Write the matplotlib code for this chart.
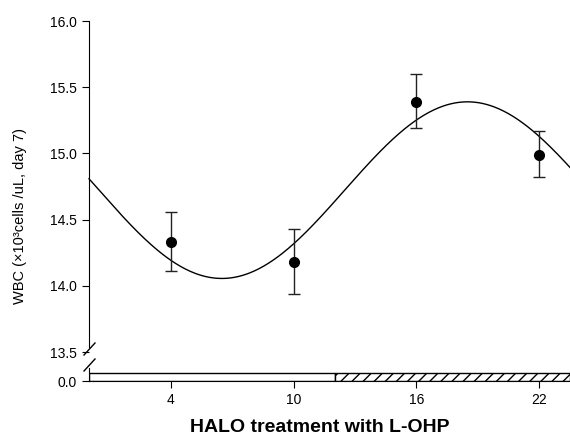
import numpy as np
import matplotlib
matplotlib.use("Agg")
import matplotlib.pyplot as plt

plt.rcParams['font.family'] = ['Liberation Sans', 'DejaVu Sans']
plt.rcParams['hatch.linewidth'] = 1.0

# data
days = np.array([4, 10, 16, 22])
wbc = np.array([14.33, 14.18, 15.39, 14.99])
err_up = np.array([0.23, 0.25, 0.21, 0.18])
err_dn = np.array([0.22, 0.24, 0.20, 0.17])
xticks = [4, 10, 16, 22]
yticks = [13.5, 14.0, 14.5, 15.0, 15.5, 16.0]
period = 24.0
light_span = (0, 12)
dark_span = (12, 23.5)

# cosinor fit of the means
w = 2 * np.pi / period
A = np.column_stack([np.ones_like(days, dtype=float), np.cos(w * days), np.sin(w * days)])
coef, *_ = np.linalg.lstsq(A, wbc, rcond=None)
tt = np.linspace(0, 23.5, 400)
fit = coef[0] + coef[1] * np.cos(w * tt) + coef[2] * np.sin(w * tt)

fig = plt.figure(figsize=(5.70, 4.36), dpi=100)
L, R = 89 / 570, 1.0
ax = fig.add_axes([L, 1 - 352 / 436, R - L, (352 - 21) / 436])
axb = fig.add_axes([L, 1 - 381 / 436, R - L, 13 / 436])

ax.plot(tt, fit, color='black', lw=1.0, clip_on=False)
ax.errorbar(days, wbc, yerr=[err_dn, err_up], fmt='o', color='black',
            ecolor='#222222', elinewidth=1.0, capsize=4.0, capthick=1.0,
            markersize=7)
ax.set_xlim(0, 23.5)
ax.set_ylim(13.5, 16.0)
ax.set_yticks(yticks)
ax.set_yticklabels(['%.1f' % v for v in yticks])
for s in ['top', 'right', 'bottom']:
    ax.spines[s].set_visible(False)
ax.spines['left'].set_bounds(13.54, 16.0)
ax.set_xticks([])
ax.tick_params(axis='y', direction='out', length=5, labelsize=10)

# light/dark bar
axb.barh(0, light_span[1] - light_span[0], left=light_span[0], height=0.6,
         align='edge', facecolor='white', edgecolor='black', lw=1.0)
axb.barh(0, dark_span[1] - dark_span[0], left=dark_span[0], height=0.6,
         align='edge', facecolor='white', edgecolor='black', lw=1.0, hatch='///')
axb.set_xlim(0, 23.5)
axb.set_ylim(0, 1)
axb.set_yticks([0])
axb.set_yticklabels(['0.0'])
axb.set_xticks(xticks)
for s in ['top', 'right']:
    axb.spines[s].set_visible(False)
axb.tick_params(direction='out', length=5, labelsize=10)

fig.text(320 / 570, 1 - 432 / 436, 'HALO treatment with L-OHP', ha='center',
         va='baseline', fontsize=14, fontweight='bold')

# break marks
kw = dict(color='black', lw=1.0, clip_on=False, transform=fig.transFigure)
for y0 in (355, 371):
    fig.add_artist(plt.Line2D([84 / 570, 95 / 570], [1 - y0 / 436, 1 - (y0 - 12) / 436], **kw))

fig.text(20 / 570, 1 - 216 / 436, 'WBC (\u00d710\u00b3cells /uL, day 7)', rotation=90,
         ha='center', va='center', fontsize=10.5)

fig.savefig('out.png', dpi=100)
